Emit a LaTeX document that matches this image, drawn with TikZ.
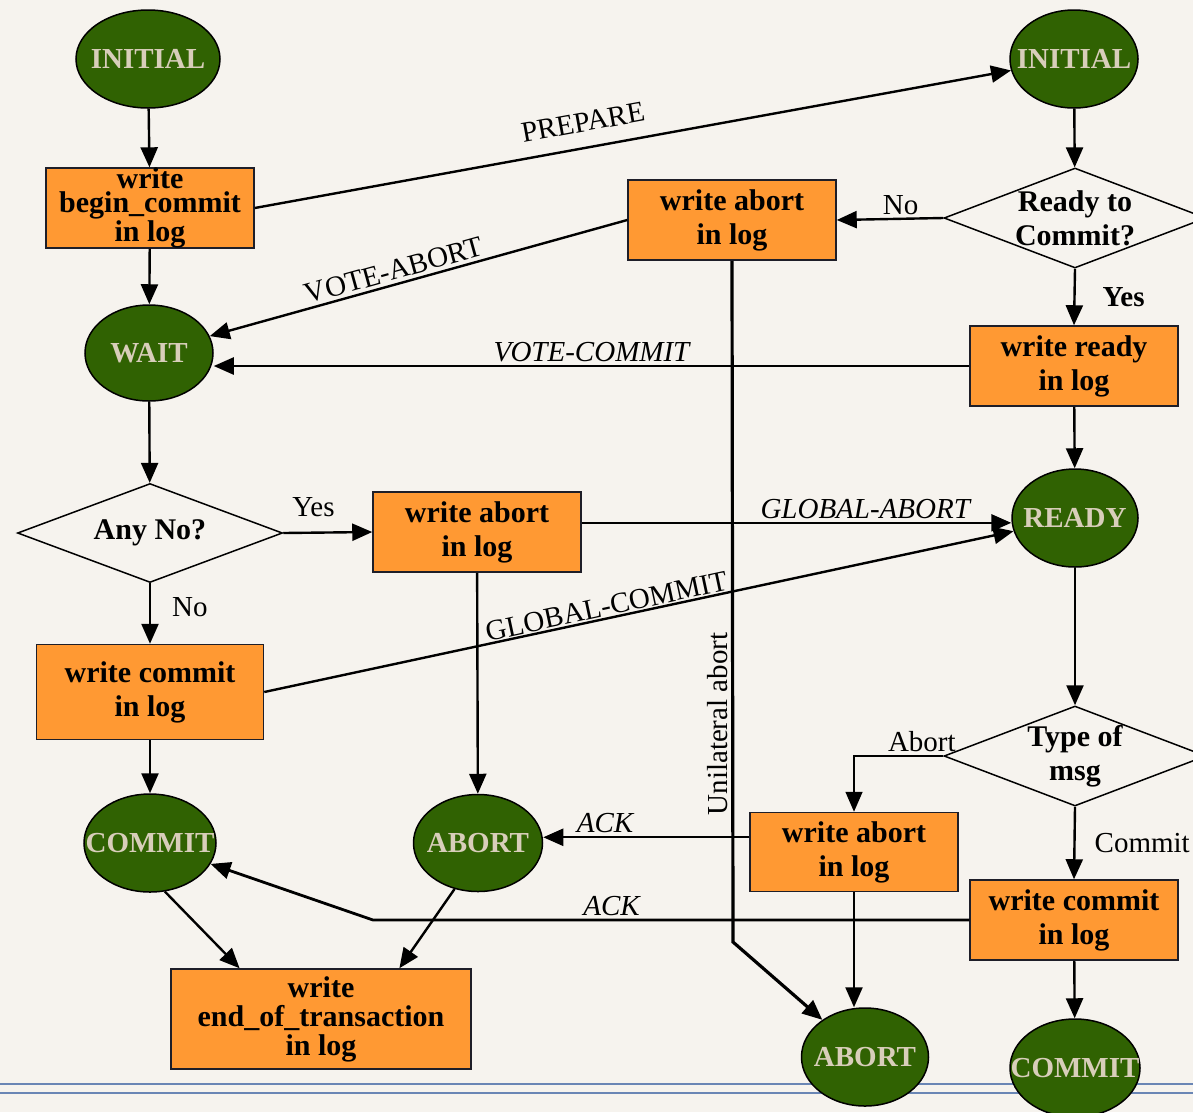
\documentclass[tikz,border=0pt]{standalone}
\usepackage{fontspec}
\setmainfont{Liberation Serif}
\usetikzlibrary{arrows.meta}
\usetikzlibrary{shapes.geometric}
\usetikzlibrary{calc}
\definecolor{stateGreen}{RGB}{48,98,2}
\definecolor{stateCream}{RGB}{216,206,186}
\definecolor{logOrange}{RGB}{255,153,51}
\definecolor{boxBorder}{RGB}{30,30,40}
\definecolor{paper}{RGB}{246,243,238}
\definecolor{ruleBlue}{RGB}{106,134,181}

\begin{document}
\begin{tikzpicture}[x = 1pt, y = -1pt]
	\tikzstyle{stateStyle} = [shape = ellipse, draw, line width = 1.5pt, fill = stateGreen, inner sep = 0pt]
	\tikzstyle{stateTextStyle} = [text = stateCream, font = \fontsize{29}{30}\selectfont\bfseries, inner sep = 0pt]
	\tikzstyle{logStyle} = [shape = rectangle, draw = boxBorder, line width = 1.5pt, fill = logOrange, font = \fontsize{30}{34}\selectfont\bfseries, align = center, inner sep = 0pt]
	\tikzstyle{testStyle} = [shape = diamond, draw, line width = 1.5pt, inner sep = 0pt]
	\tikzstyle{testTextStyle} = [font = \fontsize{30}{34}\selectfont\bfseries, align = center, inner sep = 0pt]
	\tikzstyle{edgeStyle} = [line width = 2.4pt, -{Triangle[length = 20pt, width = 17pt]}]
	\tikzstyle{labelStyle} = [font = \fontsize{29}{30}\selectfont, inner sep = 3pt]
	\tikzstyle{italicLabelStyle} = [font = \fontsize{29}{30}\selectfont\itshape, inner sep = 3pt]
	\tikzstyle{boldLabelStyle} = [font = \fontsize{29}{30}\selectfont\bfseries, inner sep = 3pt]
	\fill[paper] (0,0) rectangle (1193,1112);
	\useasboundingbox (0,0) rectangle (1193,1112);
	\draw[ruleBlue, line width = 1.8pt] (0,1084) -- (1193,1084);
	\draw[ruleBlue, line width = 1.8pt] (0,1093) -- (1193,1093);
	\node[stateStyle, minimum width = 144pt, minimum height = 98pt, label = {[stateTextStyle]center:INITIAL}] (v0) at (148,59) {};
	\node[logStyle, minimum width = 208pt, minimum height = 79pt, font = \fontsize{30}{24}\selectfont\bfseries] (v1) at (150,208) {write\\begin\_commit\\in log};
	\node[stateStyle, minimum width = 128pt, minimum height = 96pt, label = {[stateTextStyle]center:WAIT}] (v2) at (149,353) {};
	\node[testStyle, minimum width = 265pt, minimum height = 99pt, label = {[testTextStyle]center:Any No?}] (v3) at (150,533) {};
	\node[logStyle, minimum width = 227pt, minimum height = 95pt] (v4) at (150,692) {write commit\\in log};
	\node[stateStyle, minimum width = 132pt, minimum height = 98pt, label = {[stateTextStyle]center:COMMIT}] (v5) at (150,843) {};
	\node[logStyle, minimum width = 300pt, minimum height = 100pt, font = \fontsize{30}{29}\selectfont\bfseries] (v6) at (321,1019) {write\\end\_of\_transaction\\in log};
	\node[logStyle, minimum width = 208pt, minimum height = 80pt] (v7) at (477,532) {write abort\\in log};
	\node[stateStyle, minimum width = 129pt, minimum height = 97pt, label = {[stateTextStyle]center:ABORT}] (v8) at (478,843) {};
	\node[logStyle, minimum width = 208pt, minimum height = 80pt] (v9) at (732,220) {write abort\\in log};
	\node[stateStyle, minimum width = 128pt, minimum height = 98pt, label = {[stateTextStyle]center:INITIAL}] (v10) at (1074,59) {};
	\node[testStyle, minimum width = 262pt, minimum height = 100pt, label = {[testTextStyle]center:{Ready to\\Commit?}}] (v11) at (1075,218) {};
	\node[logStyle, minimum width = 208pt, minimum height = 80pt] (v12) at (1074,366) {write ready\\in log};
	\node[stateStyle, minimum width = 126pt, minimum height = 98pt, label = {[stateTextStyle]center:READY}] (v13) at (1075,518) {};
	\node[testStyle, minimum width = 262pt, minimum height = 100pt, label = {[testTextStyle]center:{Type of\\msg}}] (v14) at (1075,756) {};
	\node[logStyle, minimum width = 208pt, minimum height = 79pt] (v15) at (854,852) {write abort\\in log};
	\node[logStyle, minimum width = 208pt, minimum height = 80pt] (v16) at (1074,920) {write commit\\in log};
	\node[stateStyle, minimum width = 127pt, minimum height = 98pt, label = {[stateTextStyle]center:ABORT}] (v17) at (865,1057) {};
	\node[stateStyle, minimum width = 130pt, minimum height = 98pt, label = {[stateTextStyle]center:COMMIT}] (v18) at (1075,1068) {};
	\coordinate (c0) at (373,920);
	\coordinate (c1) at (733,942);
	\draw[edgeStyle] (v0) -- (v1);
	\draw[edgeStyle] (v1) -- (v2);
	\draw[edgeStyle] (v1.east) -- node[labelStyle, sloped, above = 12pt, pos = 0.44] {PREPARE} (v10);
	\draw[edgeStyle] (v9.west) -- node[labelStyle, sloped, above, pos = 0.55] {VOTE-ABORT} (v2);
	\draw[edgeStyle] (v12.west) -- node[italicLabelStyle, above, pos = 0.5] {VOTE-COMMIT} (v2.east |- v12.west);
	\draw[edgeStyle] (v10) -- (v11);
	\draw[edgeStyle] (v11.west) -- node[labelStyle, above, pos = 0.4] {No} (v9.east);
	\draw[edgeStyle] (v11.south) -- node[boldLabelStyle, right = 24pt] {Yes} (v12.north);
	\draw[edgeStyle] (v12) -- (v13);
	\draw[edgeStyle] (v2) -- (v3);
	\draw[edgeStyle] (v3.east) -- node[labelStyle, above = 12pt, pos = 0.34] {Yes} (v7.west);
	\draw[edgeStyle] (v3.south) -- node[labelStyle, right = 18pt, pos = 0.4] {No} (v4.north);
	\draw[edgeStyle] (v7.5) -- node[italicLabelStyle, above, pos = 0.66] {GLOBAL-ABORT} (v13.west |- v7.5);
	\draw[edgeStyle] (v4.east) -- node[labelStyle, sloped, above, pos = 0.46, inner sep = 1pt] {GLOBAL-COMMIT} (v13);
	\draw[edgeStyle] (v7) -- (v8);
	\draw[edgeStyle] (v4) -- (v5);
	\draw[edgeStyle] (v13) -- (v14);
	\draw[edgeStyle, line width = 1.5pt] (v14.west) -| node[labelStyle, above, pos = 0.12] {Abort} (v15.north);
	\draw[edgeStyle] (v14.south) -- node[labelStyle, right = 16pt] {Commit} (v16.north);
	\draw[edgeStyle] (v15.172) -- node[italicLabelStyle, above, pos = 0.7] {ACK} (v8.east |- v15.172);
	\draw[edgeStyle, line width = 2.8pt] (v16.west) -- node[italicLabelStyle, above, pos = 0.6] {ACK} (c0) -- (v5);
	\draw[edgeStyle] (v5.-73) -- ($(v6.north west)!0.23!(v6.north east)$);
	\draw[edgeStyle] (v8.-117) -- ($(v6.north west)!0.76!(v6.north east)$);
	\draw[edgeStyle] (v15.south) -- (v17.north -| v15.south);
	\draw[edgeStyle] (v16) -- (v18);
	\draw[edgeStyle, line width = 3.2pt] (v9.south) -- node[labelStyle, rotate = 90, anchor = south, pos = 0.68] {Unilateral abort} (c1) -- (v17);
\end{tikzpicture}
\end{document}
